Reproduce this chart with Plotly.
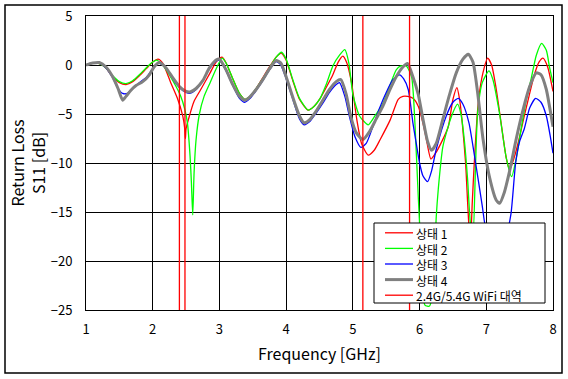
import plotly.graph_objects as go

# ---------------- data ----------------
f_state1 = [1.0, 1.1, 1.2, 1.3, 1.4, 1.5, 1.6, 1.7, 1.8, 1.9, 2.0, 2.08, 2.15, 2.27, 2.37, 2.45, 2.48, 2.49, 2.5, 2.55,
            2.62, 2.72, 2.86, 2.95, 3.04, 3.1, 3.2, 3.3, 3.38, 3.46, 3.55, 3.65, 3.75, 3.85, 3.93, 4.0, 4.1, 4.2, 4.33,
            4.42, 4.51, 4.6, 4.7, 4.78, 4.85, 4.91, 4.98, 5.06, 5.13, 5.23, 5.32, 5.41, 5.56, 5.68, 5.75, 5.82, 5.9,
            5.98, 6.05, 6.1, 6.17, 6.24, 6.32, 6.43, 6.5, 6.56, 6.6, 6.64, 6.69, 6.72, 6.76, 6.79, 6.82, 6.86, 6.89,
            6.95, 7.02, 7.08, 7.15, 7.23, 7.3, 7.35, 7.42, 7.49, 7.57, 7.64, 7.72, 7.79, 7.85, 7.92, 8.0]
s11_state1 = [0.0, 0.2, 0.15, -0.3, -1.2, -1.8, -2.0, -1.7, -1.1, -0.4, 0.3, 0.6, 0.2, -1.8, -3.4, -5.2, -6.5, -7.5, -6.5, -5.2,
              -3.7, -2.5, -0.8, 0.3, 0.8, 0.2, -1.4, -2.9, -3.5, -3.2, -2.4, -1.3, -0.2, 0.8, 1.2, 0.5, -1.6, -3.5, -4.6,
              -4.2, -3.4, -2.3, -1.0, 0.3, 0.9, 0.2, -1.8, -5.6, -8.0, -9.2, -8.7, -7.6, -5.6, -3.5, -3.2, -3.2, -3.4,
              -4.2, -5.9, -7.5, -9.6, -9.0, -8.0, -6.3, -3.5, -2.3, -3.5, -5.9, -10.0, -14.0, -18.5, -14.0, -10.0, -5.5, -3.2,
              -0.8, 0.7, 0.0, -2.5, -6.3, -9.5, -10.7, -9.4, -7.6, -5.2, -3.2, -1.0, 0.3, 0.7, -0.2, -2.7]

f_state2 = [1.0, 1.1, 1.2, 1.3, 1.4, 1.5, 1.6, 1.7, 1.8, 1.9, 2.0, 2.06, 2.15, 2.25, 2.35, 2.42, 2.48, 2.52, 2.56, 2.58,
            2.6, 2.62, 2.65, 2.7, 2.77, 2.86, 2.95, 3.04, 3.1, 3.2, 3.3, 3.38, 3.46, 3.55, 3.65, 3.75, 3.85, 3.93, 4.0,
            4.1, 4.2, 4.33, 4.42, 4.51, 4.6, 4.7, 4.8, 4.88, 4.94, 5.0, 5.1, 5.23, 5.33, 5.45, 5.55, 5.65, 5.72, 5.8,
            5.88, 5.93, 5.98, 6.03, 6.08, 6.15, 6.2, 6.25, 6.28, 6.35, 6.48, 6.57, 6.62, 6.67, 6.72, 6.76, 6.8, 6.84,
            6.87, 6.94, 7.04, 7.1, 7.2, 7.3, 7.38, 7.45, 7.52, 7.6, 7.67, 7.75, 7.83, 7.9, 7.95, 8.0]
s11_state2 = [0.0, 0.2, 0.15, -0.3, -1.1, -1.7, -1.9, -1.6, -1.0, -0.3, 0.3, 0.5, 0.0, -1.0, -2.2, -3.2, -4.5, -5.9, -9.3, -12.0,
              -15.3, -11.0, -7.6, -5.0, -3.2, -1.8, -0.4, 0.7, 0.2, -1.4, -2.9, -3.5, -3.2, -2.4, -1.4, -0.3, 0.8, 1.3, 0.6,
              -1.5, -3.4, -4.6, -4.2, -3.4, -2.0, -0.1, 1.0, 1.56, 0.2, -3.0, -5.2, -6.1, -5.2, -3.9, -2.2, -0.5, -0.1, -0.1,
              -1.2, -5.9, -13.4, -20.0, -24.5, -24.6, -23.0, -15.5, -12.7, -8.3, -5.2, -4.0, -5.0, -7.6, -11.7, -16.0, -17.5, -10.0,
              -4.9, -1.8, -0.6, -1.5, -5.0, -9.5, -11.4, -9.5, -6.6, -3.5, -1.5, 1.0, 2.2, 1.5, -0.3, -1.8]

f_state3 = [1.0, 1.1, 1.2, 1.3, 1.4, 1.48, 1.55, 1.62, 1.7, 1.8, 1.9, 2.0, 2.08, 2.15, 2.25, 2.35, 2.45, 2.55, 2.65, 2.75,
            2.85, 2.95, 3.0, 3.1, 3.2, 3.3, 3.38, 3.46, 3.55, 3.65, 3.75, 3.85, 3.92, 4.0, 4.1, 4.2, 4.27, 4.35, 4.45,
            4.55, 4.65, 4.75, 4.8, 4.88, 4.95, 5.03, 5.12, 5.2, 5.3, 5.4, 5.5, 5.6, 5.7, 5.76, 5.83, 5.9, 5.95, 6.0,
            6.05, 6.12, 6.18, 6.25, 6.4, 6.5, 6.58, 6.65, 6.74, 6.84, 6.94, 6.98, 7.1, 7.2, 7.3, 7.37, 7.44, 7.5, 7.57,
            7.65, 7.74, 7.82, 7.9, 7.96, 8.0]
s11_state3 = [0.0, 0.2, 0.2, -0.3, -1.3, -2.4, -2.9, -2.9, -2.4, -1.8, -1.3, -0.4, 0.2, 0.0, -0.8, -1.9, -2.6, -2.9, -2.5, -1.6,
              -0.4, 0.4, 0.5, -0.6, -2.1, -3.4, -3.8, -3.4, -2.6, -1.6, -0.5, 0.35, 0.0, -1.4, -3.5, -5.5, -6.1, -5.8, -4.9,
              -3.9, -2.8, -2.0, -1.8, -3.2, -5.3, -7.3, -8.4, -8.0, -6.3, -4.4, -2.8, -1.5, -1.0, -1.4, -2.5, -5.9, -8.0, -10.0,
              -11.3, -11.9, -10.8, -8.6, -5.2, -3.8, -3.4, -4.0, -5.9, -10.0, -14.4, -16.3, -19.5, -19.6, -17.5, -15.2, -10.0, -7.8, -6.5,
              -4.4, -3.4, -3.8, -5.2, -7.3, -9.0]

f_state4 = [1.0, 1.1, 1.2, 1.3, 1.4, 1.48, 1.55, 1.6, 1.67, 1.75, 1.85, 1.95, 2.02, 2.1, 2.2, 2.3, 2.4, 2.5, 2.56, 2.65,
            2.75, 2.85, 2.95, 3.0, 3.1, 3.2, 3.3, 3.38, 3.45, 3.55, 3.65, 3.75, 3.85, 3.92, 4.0, 4.1, 4.2, 4.27, 4.35,
            4.45, 4.55, 4.65, 4.75, 4.82, 4.9, 4.97, 5.05, 5.15, 5.25, 5.35, 5.45, 5.55, 5.65, 5.75, 5.82, 5.9, 5.98,
            6.05, 6.12, 6.18, 6.25, 6.35, 6.45, 6.55, 6.65, 6.73, 6.8, 6.87, 6.95, 7.05, 7.15, 7.2, 7.27, 7.35, 7.45,
            7.55, 7.65, 7.75, 7.82, 7.9, 7.95, 8.0]
s11_state4 = [0.0, 0.2, 0.25, -0.2, -1.2, -2.4, -3.6, -3.2, -2.6, -2.1, -1.7, -1.0, -0.2, 0.25, -0.3, -1.3, -2.2, -2.7, -2.75, -2.4,
              -1.6, -0.3, 0.5, 0.6, -0.5, -2.0, -3.2, -3.6, -3.3, -2.5, -1.5, -0.4, 0.45, 0.2, -1.2, -3.3, -5.2, -5.9, -5.6,
              -4.7, -3.6, -2.5, -1.7, -1.5, -3.0, -5.3, -6.9, -7.6, -6.8, -5.5, -4.2, -2.6, -1.2, -0.2, 0.15, -1.2, -3.0,
              -5.5, -7.8, -8.7, -8.0, -5.5, -3.0, -0.8, 0.6, 1.1, 0.3, -2.8, -7.5, -11.5, -13.8, -14.1, -13.0, -10.8, -7.5,
              -4.6, -2.2, -0.8, -1.0, -2.5, -4.3, -6.3]

wifi_edges = [2.4, 2.4835, 5.15, 5.85]
y_range = [-25, 5]
x_range = [1, 8]
x_ticks = [1, 2, 3, 4, 5, 6, 7, 8]
y_ticks = [5, 0, -5, -10, -15, -20, -25]

names = ["상태 1", "상태 2", "상태 3", "상태 4", "2.4G/5.4G WiFi 대역"]
colors = ["#FF0000", "#00FF00", "#0000FF", "#808080", "#FF0000"]
widths = [1.3, 1.3, 1.3, 3, 1.3]

FONT = "Noto Sans CJK KR, Malgun Gothic, sans-serif"

# ---------------- figure ----------------
W, H = 568, 379
L, R, T, B = 86, 15, 16, 69
PW, PH = W - L - R, H - T - B


def px(xp):
    return (xp - L) / PW


def py(yp):
    return (H - B - yp) / PH


fig = go.Figure()
series = [(f_state1, s11_state1), (f_state2, s11_state2), (f_state3, s11_state3), (f_state4, s11_state4)]
for i, (fx, sy) in enumerate(series):
    fig.add_trace(go.Scatter(x=fx, y=sy, mode="lines", name=names[i], showlegend=False,
                             line=dict(color=colors[i], width=widths[i], shape="spline", smoothing=0.6)))

# WiFi band edges
wx, wy = [], []
for e in wifi_edges:
    wx += [e, e, None]
    wy += [y_range[0], y_range[1], None]
fig.add_trace(go.Scatter(x=wx, y=wy, mode="lines", name=names[4], showlegend=False,
                         line=dict(color=colors[4], width=1.3)))

axis_common = dict(showgrid=True, gridcolor="black", gridwidth=1, showline=True, linecolor="black",
                   linewidth=1, mirror=True, zeroline=False, ticks="",
                   tickfont=dict(family=FONT, size=13, color="black"))
fig.update_xaxes(range=x_range, tickvals=x_ticks, ticklabelstandoff=7,
                 title=dict(text="Frequency [GHz]", font=dict(family=FONT, size=16, color="black"), standoff=12),
                 **axis_common)
fig.update_yaxes(range=y_range, tickvals=y_ticks, ticklabelstandoff=10,
                 title=dict(text="Return Loss<br>S11 [dB]", font=dict(family=FONT, size=16, color="black"), standoff=1),
                 **axis_common)

shapes = []
# outer frame
shapes.append(dict(type="rect", xref="paper", yref="paper", x0=px(5), x1=px(562), y0=py(373), y1=py(5),
                   line=dict(color="black", width=1.5), layer="below"))
# legend box
lx0, lx1, ly0, ly1 = 374, 545, 223, 303
shapes.append(dict(type="rect", xref="paper", yref="paper", x0=px(lx0), x1=px(lx1), y0=py(ly1), y1=py(ly0),
                   line=dict(color="black", width=1), fillcolor="white", layer="above"))
LEG_FONT = 12
row_gap = LEG_FONT * 1.3
row_mid = 264
row_y = [row_mid + (i - 2) * row_gap for i in range(5)]
for i, name in enumerate(names):
    shapes.append(dict(type="line", xref="paper", yref="paper", x0=px(385), x1=px(413), y0=py(row_y[i]), y1=py(row_y[i]),
                       line=dict(color=colors[i], width=widths[i]), layer="above"))
annotations = [dict(text="<br>".join(names), xref="paper", yref="paper", x=px(415), y=py(row_mid),
                    xanchor="left", yanchor="middle", align="left", showarrow=False, borderpad=0,
                    font=dict(family=FONT, size=LEG_FONT, color="black"))]

fig.update_layout(width=W, height=H, margin=dict(l=L, r=R, t=T, b=B, autoexpand=False),
                  paper_bgcolor="white", plot_bgcolor="white", showlegend=False,
                  shapes=shapes, annotations=annotations, font=dict(family=FONT, color="black"))

fig.write_html("out.html", config={"displayModeBar": False},
               post_script="document.body.style.margin='0';document.body.style.padding='0';")
